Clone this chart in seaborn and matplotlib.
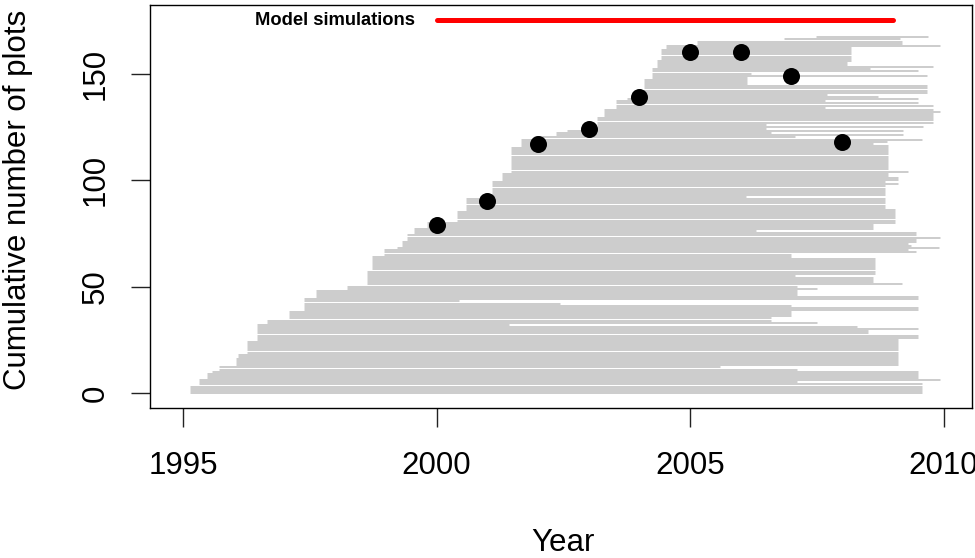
import numpy as np
import pandas as pd
import matplotlib
matplotlib.use("Agg")
import matplotlib.pyplot as plt
import seaborn as sns

# ---------------- data ----------------
plot_start = [
    1995.15, 1995.15, 1995.15, 1995.15, 1995.33, 1995.33, 1995.33, 1995.49, 1995.49, 1995.49,
    1995.60, 1995.73, 1995.73, 1996.06, 1996.06, 1996.06, 1996.06, 1996.10, 1996.10, 1996.28,
    1996.28, 1996.28, 1996.28, 1996.28, 1996.28, 1996.48, 1996.48, 1996.48, 1996.48, 1996.48,
    1996.48, 1996.48, 1996.48, 1996.68, 1996.68, 1997.11, 1997.11, 1997.11, 1997.11, 1997.40,
    1997.40, 1997.40, 1997.40, 1997.40, 1997.40, 1997.64, 1997.64, 1997.64, 1997.64, 1998.25,
    1998.25, 1998.65, 1998.65, 1998.65, 1998.65, 1998.65, 1998.65, 1998.65, 1998.75, 1998.75,
    1998.75, 1998.75, 1998.75, 1998.75, 1998.75, 1998.98, 1998.98, 1998.98, 1999.24, 1999.34,
    1999.34, 1999.34, 1999.44, 1999.44, 1999.44, 1999.58, 1999.58, 1999.58, 1999.83, 1999.83,
    1999.83, 2000.42, 2000.42, 2000.42, 2000.42, 2000.42, 2000.60, 2000.60, 2000.60, 2000.60,
    2000.60, 2000.60, 2001.11, 2001.11, 2001.11, 2001.11, 2001.11, 2001.11, 2001.11, 2001.11,
    2001.31, 2001.31, 2001.31, 2001.31, 2001.49, 2001.49, 2001.49, 2001.49, 2001.49, 2001.49,
    2001.49, 2001.49, 2001.49, 2001.49, 2001.49, 2001.49, 2001.69, 2001.69, 2001.69, 2001.69,
    2001.94, 2002.38, 2002.38, 2002.60, 2003.19, 2003.19, 2003.19, 2003.19, 2003.19, 2003.19,
    2003.32, 2003.32, 2003.32, 2003.32, 2003.56, 2003.56, 2003.56, 2003.56, 2003.78, 2004.01,
    2004.01, 2004.01, 2004.01, 2004.11, 2004.11, 2004.11, 2004.11, 2004.11, 2004.27, 2004.27,
    2004.27, 2004.27, 2004.27, 2004.37, 2004.37, 2004.37, 2004.37, 2004.45, 2004.45, 2004.45,
    2004.45, 2004.45, 2004.55, 2004.55, 2005.16, 2005.16, 2006.87, 2007.50,
]
plot_end = [
    2009.57, 2009.57, 2009.57, 2009.57, 2009.57, 2007.10, 2009.93, 2009.50, 2009.50, 2009.50,
    2009.50, 2007.10, 2005.60, 2009.10, 2009.10, 2009.10, 2009.10, 2009.10, 2009.10, 2009.10,
    2009.10, 2009.10, 2009.10, 2009.10, 2009.10, 2009.10, 2009.50, 2009.50, 2008.50, 2008.50,
    2009.50, 2008.30, 2001.43, 2007.50, 2006.60, 2006.60, 2007.00, 2007.00, 2007.00, 2009.50,
    2009.50, 2007.00, 2002.44, 2000.44, 2009.50, 2009.50, 2007.10, 2007.10, 2007.10, 2007.50,
    2007.10, 2009.18, 2008.60, 2008.60, 2008.60, 2007.07, 2008.65, 2008.65, 2008.65, 2008.65,
    2008.65, 2008.65, 2008.65, 2008.65, 2007.00, 2007.00, 2009.45, 2009.30, 2009.90, 2009.35,
    2009.30, 2009.45, 2009.45, 2009.93, 2009.45, 2009.45, 2006.30, 2008.60, 2008.60, 2008.60,
    2009.04, 2009.04, 2009.04, 2009.04, 2009.04, 2009.04, 2009.04, 2008.85, 2008.85, 2008.85,
    2008.85, 2008.85, 2006.10, 2008.85, 2008.85, 2008.85, 2008.85, 2008.85, 2009.10, 2008.85,
    2009.10, 2009.10, 2008.90, 2008.90, 2009.30, 2008.90, 2008.90, 2008.90, 2008.90, 2008.90,
    2008.90, 2008.90, 2008.90, 2008.90, 2008.90, 2008.90, 2008.90, 2008.60, 2008.88, 2009.57,
    2007.07, 2009.20, 2006.60, 2009.20, 2006.50, 2009.60, 2006.50, 2009.80, 2009.80, 2009.80,
    2009.80, 2009.80, 2009.93, 2009.80, 2007.66, 2009.80, 2009.50, 2007.66, 2009.50, 2008.70,
    2007.70, 2009.67, 2009.67, 2009.67, 2009.67, 2006.12, 2006.12, 2006.12, 2006.12, 2009.67,
    2006.20, 2009.50, 2008.55, 2009.80, 2008.10, 2008.10, 2008.17, 2008.17, 2008.17, 2008.17,
    2008.17, 2008.17, 2008.17, 2009.93, 2009.18, 2009.18, 2009.14, 2009.69,
]
obs_year = [2000, 2001, 2002, 2003, 2004, 2005, 2006, 2007, 2008]
obs_plots = [79, 90, 117, 124, 139, 160, 160, 149, 118]
sim_years = [2000, 2009]
sim_level = [175, 175]
sim_label = "Model simulations"
x_ticks = [1995, 2000, 2005, 2010]
y_ticks = [0, 50, 100, 150]

# ---------------- build tables ----------------
n = len(plot_start)
seg = pd.DataFrame({
    "plot": np.repeat(np.arange(n), 2),
    "year": np.ravel(np.column_stack([plot_start, plot_end])),
    "count": np.repeat(np.arange(n), 2),
})
obs = pd.DataFrame({"year": obs_year, "plots": obs_plots})
sim = pd.DataFrame({"year": sim_years, "level": sim_level})

# ---------------- style ----------------
sns.set_style("white")
plt.rcParams["font.family"] = ["Liberation Sans", "DejaVu Sans"]
plt.rcParams["text.color"] = "black"
plt.rcParams["axes.labelcolor"] = "black"

fig = plt.figure(figsize=(9.75, 5.58), dpi=100)
ax = fig.add_axes([150 / 975, 1 - 408 / 558, 822 / 975, 403 / 558])

sns.lineplot(data=seg, x="year", y="count", units="plot", estimator=None,
             color="#BEBEBE", linewidth=1.1, ax=ax, legend=False, sort=False)
sns.lineplot(data=sim, x="year", y="level", color="#FF0000", linewidth=3.6,
             ax=ax, legend=False, solid_capstyle="round")
sns.scatterplot(data=obs, x="year", y="plots", color="black", s=150,
                linewidth=0, ax=ax, legend=False, zorder=5)

ax.text(1999.57, 175, sim_label, ha="right", va="center",
        fontsize=13.2, fontweight="bold", color="black")

ax.set_xlim(1994.35, 2010.56)
ax.set_ylim(-7.04, 182.2)
ax.set_xticks(x_ticks)
ax.set_yticks(y_ticks)
ax.set_xticklabels([str(v) for v in x_ticks])
ax.set_yticklabels([str(v) for v in y_ticks], rotation=90, va="center")

for sp in ax.spines.values():
    sp.set_visible(True)
    sp.set_color("black")
    sp.set_linewidth(1.0)

ax.tick_params(axis="both", which="major", direction="out", length=14,
               width=1.0, color="#222222", labelsize=22.5, labelcolor="black",
               bottom=True, left=True)
ax.tick_params(axis="x", pad=17)
ax.tick_params(axis="y", pad=14)

ax.set_xlabel("Year", fontsize=22.5, va="center", color="black")
ax.xaxis.set_label_coords(0.502, -0.335)
ax.set_ylabel("Cumulative number of plots", fontsize=22.5, va="center", color="black")
ax.yaxis.set_label_coords(-0.161, 0.516)

fig.savefig("out.png", dpi=100)
